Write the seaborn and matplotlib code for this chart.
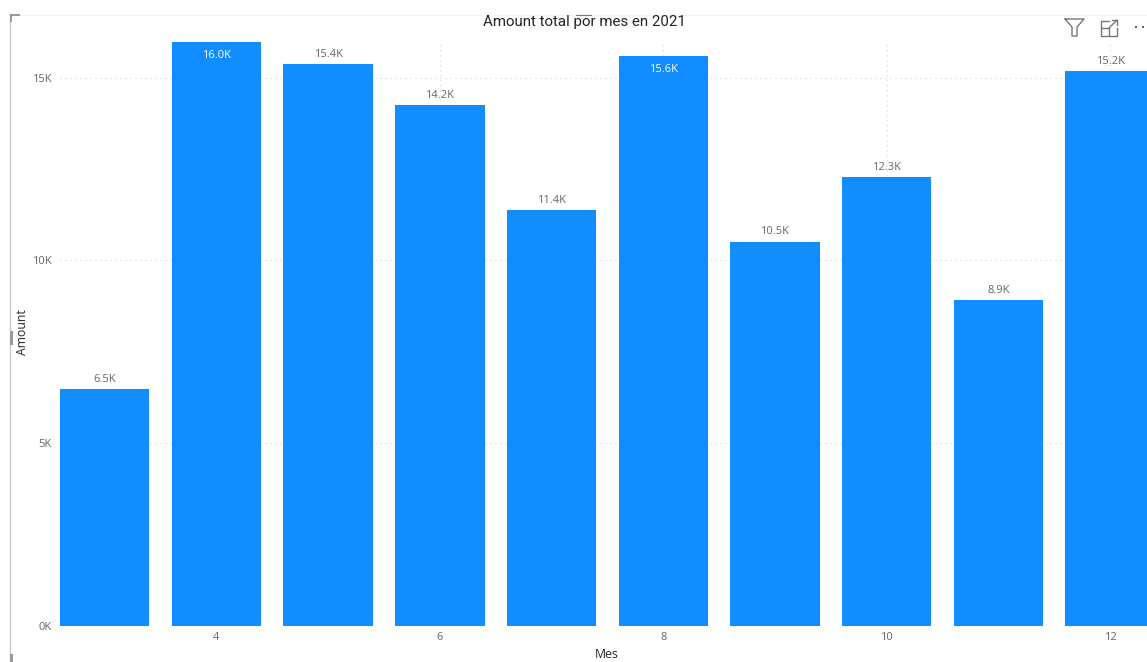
import matplotlib
matplotlib.use("Agg")
import matplotlib.pyplot as plt
from matplotlib.lines import Line2D
from matplotlib.patches import Rectangle
from matplotlib.ticker import FuncFormatter
import pandas as pd
import seaborn as sns

months = [3, 4, 5, 6, 7, 8, 9, 10, 11, 12]
amounts = [6470, 15970, 15370, 14250, 11370, 15600, 10510, 12280, 8900, 15170]
inside_labels = [4, 8]
title = "Amount total por mes en 2021"
xlabel = "Mes"
ylabel = "Amount"

W, H = 1147, 662
sns.set_theme(style="white")
plt.rcParams["font.family"] = ["Open Sans", "DejaVu Sans"]

fig = plt.figure(figsize=(W / 100, H / 100), dpi=100)
y0_px, ytop_px = 625.5, 41.0
ax = fig.add_axes([60 / W, 1 - y0_px / H, (W - 60) / W, (y0_px - ytop_px) / H])

df = pd.DataFrame({"Mes": months, "Amount": amounts})
sns.barplot(data=df, x="Mes", y="Amount", native_scale=True, color="#118DFF",
            saturation=1, width=0.8, linewidth=0, ax=ax, zorder=3)

ax.set_xlim(2.6, 12.33)
ax.set_ylim(0, 16000)
ax.set_xticks([4, 6, 8, 10, 12])
ax.set_yticks([0, 5000, 10000, 15000])
ax.yaxis.set_major_formatter(FuncFormatter(lambda v, _: f"{v / 1000:.0f}K"))
ax.tick_params(axis="both", length=0, labelsize=8, labelcolor="#666666")
ax.tick_params(axis="x", pad=4.5)
ax.tick_params(axis="y", pad=6)
ax.grid(True, color="#d9d9d9", linestyle=(0, (1, 3)), linewidth=0.9, zorder=0)
ax.set_axisbelow(True)
for s in ax.spines.values():
    s.set_visible(False)
ax.set_xlabel("")
ax.set_ylabel("")

for m, v in zip(months, amounts):
    label = f"{v / 1000:.1f}K"
    if m in inside_labels:
        ax.annotate(label, (m, v), xytext=(0, -6), textcoords="offset points",
                    ha="center", va="top", fontsize=8, color="white", zorder=5)
    else:
        ax.annotate(label, (m, v), xytext=(0, 3), textcoords="offset points",
                    ha="center", va="bottom", fontsize=8, color="#666666", zorder=5)

fig.text(584 / W, 1 - 22 / H, title, ha="center", va="center", fontsize=10.9,
         color="#252423", family="Roboto", zorder=20)
fig.text(607 / W, 1 - 654.5 / H, xlabel, ha="center", va="center", fontsize=8.8, color="#252423")
fig.text(23 / W, 1 - 332.5 / H, ylabel, ha="center", va="center", rotation=90, fontsize=8.8, color="#252423")

def px_line(xs, ys, color="#808080", lw=1.0):
    fig.add_artist(Line2D([x / W for x in xs], [1 - y / H for y in ys], color=color,
                          linewidth=lw, zorder=10))

def px_rect(x, y, w, h, color="#999999"):
    fig.add_artist(Rectangle((x / W, 1 - (y + h) / H), w / W, h / H, color=color, lw=0, zorder=10))

# visual frame and handles
px_line([9.5, 9.5], [14, 662], "#c8c8c8", 1.0)
px_line([10, W], [14.5, 14.5], "#f2f2f2", 1.0)
px_rect(10, 14, 10, 2)
px_rect(10, 14, 2.5, 8)
px_rect(10, 331, 3, 14)
px_rect(10, 654, 3, 8)
px_line([576, 591], [15, 15], "#777777", 0.8)

# header icons
px_line([1065, 1084, 1077, 1077, 1072, 1072, 1065], [19, 19, 27, 36, 36, 27, 19], "#777777", 1.0)
px_line([1109, 1101, 1101, 1117, 1117], [21, 21, 36, 36, 28], "#777777", 1.0)
px_line([1101, 1109, 1109], [28, 28, 36], "#777777", 1.0)
px_line([1109, 1117], [28, 20], "#777777", 1.0)
px_line([1112, 1117, 1117], [20, 20, 25], "#777777", 1.0)
for cx in (1135.5, 1143):
    px_rect(cx - 1, 26, 2, 2, "#666666")

fig.savefig("out.png", dpi=100)
